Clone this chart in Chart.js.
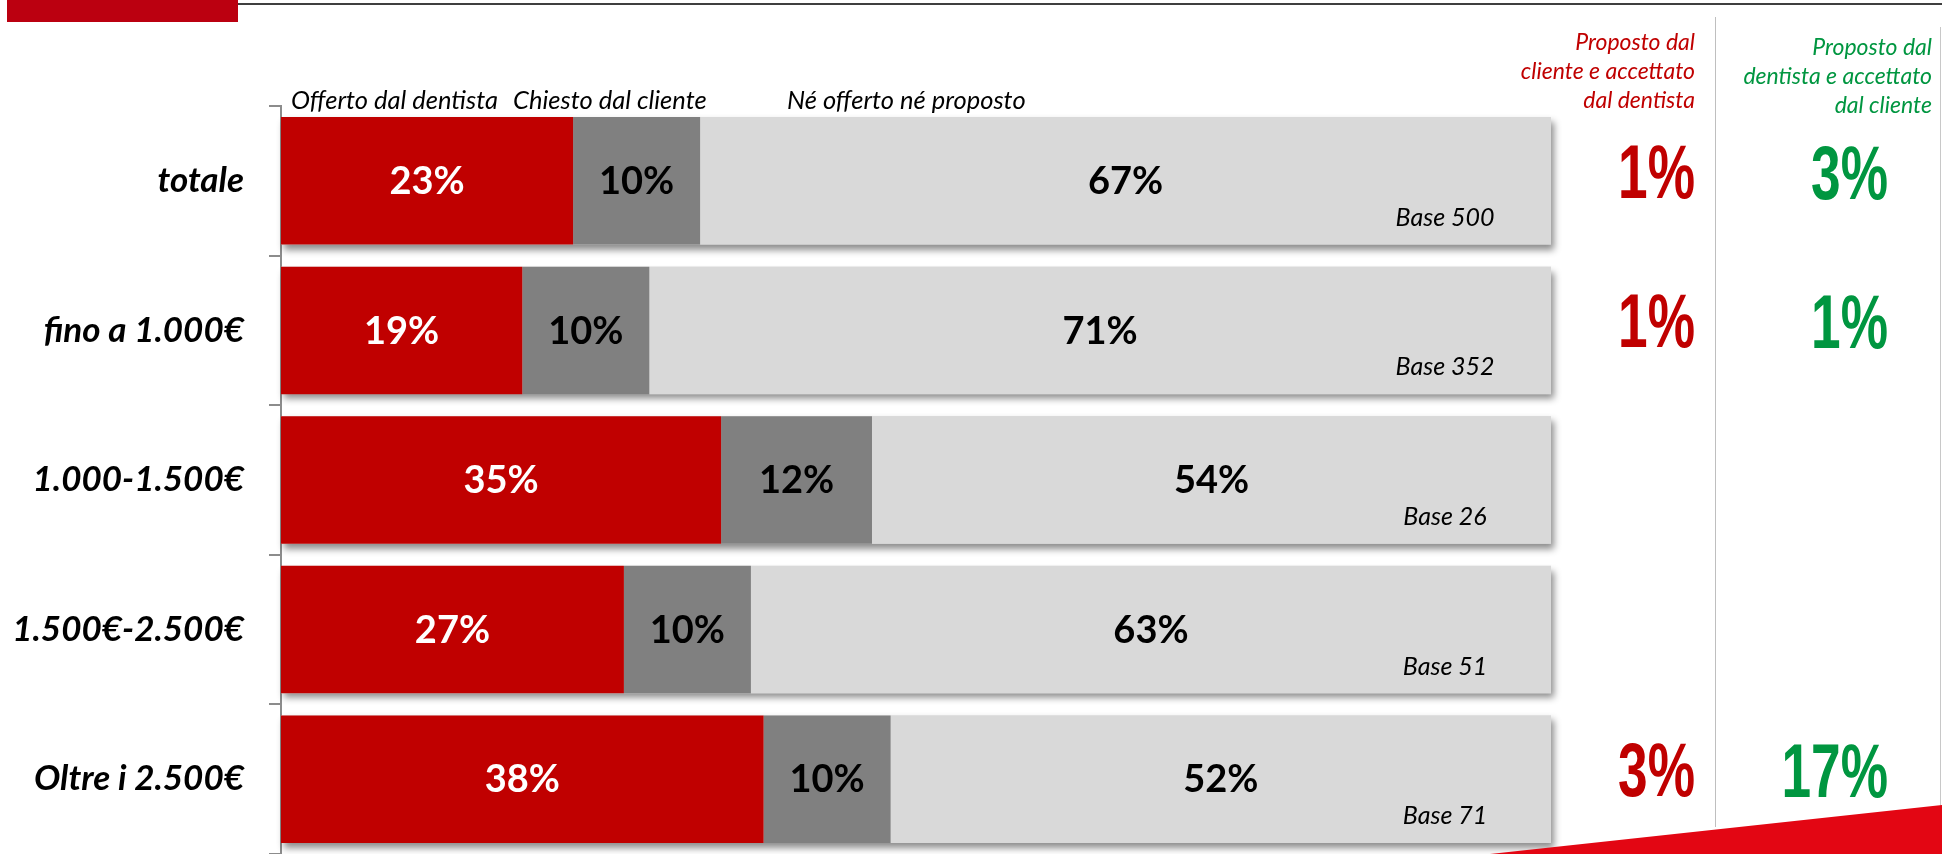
<!DOCTYPE html>
<html lang="it">
<head>
<meta charset="UTF-8">
<title>Offerta di pagamento per fascia di spesa</title>
<script src="https://cdn.jsdelivr.net/npm/chart.js"></script>
<style>
    html, body { margin: 0; padding: 0; background: #fff; overflow: hidden; }
    #pagina { position: relative; width: 1942px; height: 854px; overflow: hidden; }
    #grafico { position: absolute; left: 0; top: 0; }
    .deco { position: absolute; }
    .testo { position: absolute; font-family: Lato, sans-serif; font-style: italic; white-space: nowrap; }
    .intest { font-size: 23px; line-height: 29px; text-align: right; }
    .legenda { font-size: 25.5px; line-height: 28px; top: 85px; color: #000; }
</style>
</head>
<body>
<div id="pagina">
    <canvas id="grafico" width="1942" height="900"></canvas>

    <div class="deco" style="left:7px; top:0; width:231px; height:22px; background:#bb0010;"></div>
    <div class="deco" style="left:238px; top:3px; width:1704px; height:2px; background:#3f3f3f;"></div>
    <div class="deco" style="left:1715px; top:17px; width:1px; height:810px; background:#bfbfbf;"></div>
    <div class="deco" style="left:1940px; top:27px; width:1px; height:827px; background:#c8c8c8;"></div>
    <div class="deco" style="left:1490px; top:805px; width:452px; height:49px; background:#e30613; clip-path: polygon(0 100%, 100% 0, 100% 100%);"></div>

    <div class="testo legenda" style="left:291px;">Offerto dal dentista</div>
    <div class="testo legenda" style="left:513px;">Chiesto dal cliente</div>
    <div class="testo legenda" style="left:787px;">Né offerto né proposto</div>

    <div class="testo intest" style="right:247px; top:27px; color:#c00000;">Proposto dal<br>cliente e accettato<br>dal dentista</div>
    <div class="testo intest" style="right:10px; top:32px; color:#009640;">Proposto dal<br>dentista e accettato<br>dal cliente</div>
</div>

<script>
const categorie = ['totale', 'fino a 1.000€', '1.000-1.500€', '1.500€-2.500€', 'Oltre i 2.500€'];
const offertoDentista = [23, 19, 35, 27, 38];
const chiestoCliente = [10, 10, 12, 10, 10];
const neOfferto = [67, 71, 54, 63, 52];
const basi = [500, 352, 26, 51, 71];
const propostoCliente = [1, 1, null, null, 3];
const propostoDentista = [3, 1, null, null, 17];

const serie = [offertoDentista, chiestoCliente, neOfferto];
const nomiSerie = ['Offerto dal dentista', 'Chiesto dal cliente', 'Né offerto né proposto'];
const coloriSerie = ['#c00000', '#808080', '#d9d9d9'];
const coloriEtichette = ['#ffffff', '#000000', '#000000'];

// barre al 100% come in Excel: ogni riga e' normalizzata sul suo totale
const totali = categorie.map((c, i) => serie.reduce((s, arr) => s + arr[i], 0));

const ombraBarre = {
    id: 'ombraBarre',
    beforeDatasetsDraw(chart) {
        const ctx = chart.ctx;
        const primo = chart.getDatasetMeta(0);
        const ultimo = chart.getDatasetMeta(serie.length - 1);
        ctx.save();
        ctx.shadowColor = 'rgba(0,0,0,0.45)';
        ctx.shadowBlur = 7;
        ctx.shadowOffsetX = 3;
        ctx.shadowOffsetY = 5;
        ctx.fillStyle = '#d9d9d9';
        primo.data.forEach((el, i) => {
            const fine = ultimo.data[i];
            const h = el.height;
            ctx.fillRect(el.base, el.y - h / 2, fine.x - el.base, h);
        });
        ctx.restore();
    }
};

const etichetteBarre = {
    id: 'etichetteBarre',
    afterDatasetsDraw(chart) {
        const ctx = chart.ctx;
        ctx.save();
        ctx.font = 'bold 38px Lato';
        ctx.textAlign = 'center';
        ctx.textBaseline = 'middle';
        serie.forEach((valori, d) => {
            const meta = chart.getDatasetMeta(d);
            ctx.fillStyle = coloriEtichette[d];
            meta.data.forEach((el, i) => {
                ctx.fillText(valori[i] + '%', (el.x + el.base) / 2, el.y + 1);
            });
        });
        ctx.restore();
    }
};

function numeroGrande(ctx, testo, xDestra, yBase, colore) {
    ctx.save();
    ctx.translate(xDestra, yBase);
    ctx.scale(0.7, 1);
    ctx.font = 'bold 76px "Liberation Sans"';
    ctx.textAlign = 'right';
    ctx.textBaseline = 'alphabetic';
    ctx.fillStyle = colore;
    ctx.fillText(testo, 0, 0);
    ctx.restore();
}

const colonneLaterali = {
    id: 'colonneLaterali',
    afterDraw(chart) {
        const ctx = chart.ctx;
        const y = chart.scales.y;
        categorie.forEach((c, i) => {
            const yc = y.getPixelForValue(i);
            ctx.save();
            ctx.font = 'italic 25px Lato';
            ctx.fillStyle = '#000';
            ctx.textAlign = 'center';
            ctx.textBaseline = 'middle';
            ctx.fillText('Base ' + basi[i], 1445, yc + 37);
            ctx.restore();
            if (propostoCliente[i] !== null) {
                numeroGrande(ctx, propostoCliente[i] + '%', 1695, yc + 17, '#c00000');
            }
            if (propostoDentista[i] !== null) {
                numeroGrande(ctx, propostoDentista[i] + '%', 1888, yc + 18, '#009640');
            }
        });
    }
};

function disegna() {
    const datasets = serie.map((valori, d) => ({
        label: nomiSerie[d],
        data: valori.map((v, i) => v / totali[i] * 100),
        backgroundColor: coloriSerie[d],
        borderWidth: 0,
        categoryPercentage: 1,
        barPercentage: 0.852
    }));

    new Chart(document.getElementById('grafico'), {
        type: 'bar',
        data: { labels: categorie, datasets: datasets },
        options: {
            indexAxis: 'y',
            responsive: false,
            devicePixelRatio: 1,
            animation: false,
            layout: { padding: { top: 106, bottom: 40, left: 0, right: 391 } },
            plugins: { legend: { display: false }, tooltip: { enabled: false } },
            scales: {
                x: { stacked: true, min: 0, max: 100, display: false },
                y: {
                    stacked: true,
                    offset: true,
                    border: { display: true, color: '#8c8c8c', width: 2 },
                    grid: { display: true, offset: true, drawOnChartArea: false, drawTicks: true, tickLength: 12, color: '#8c8c8c', lineWidth: 2 },
                    ticks: {
                        color: '#000',
                        padding: 25,
                        font: { family: 'Lato', size: 35, style: 'italic', weight: 'bold' }
                    },
                    afterFit: function (s) { s.width = 281; }
                }
            }
        },
        plugins: [ombraBarre, etichetteBarre, colonneLaterali]
    });
}

Promise.all([
    document.fonts.load('italic bold 35px Lato'),
    document.fonts.load('bold 38px Lato'),
    document.fonts.load('italic 25px Lato'),
    document.fonts.load('bold 76px "Liberation Sans"')
]).then(disegna, disegna);
</script>
</body>
</html>
